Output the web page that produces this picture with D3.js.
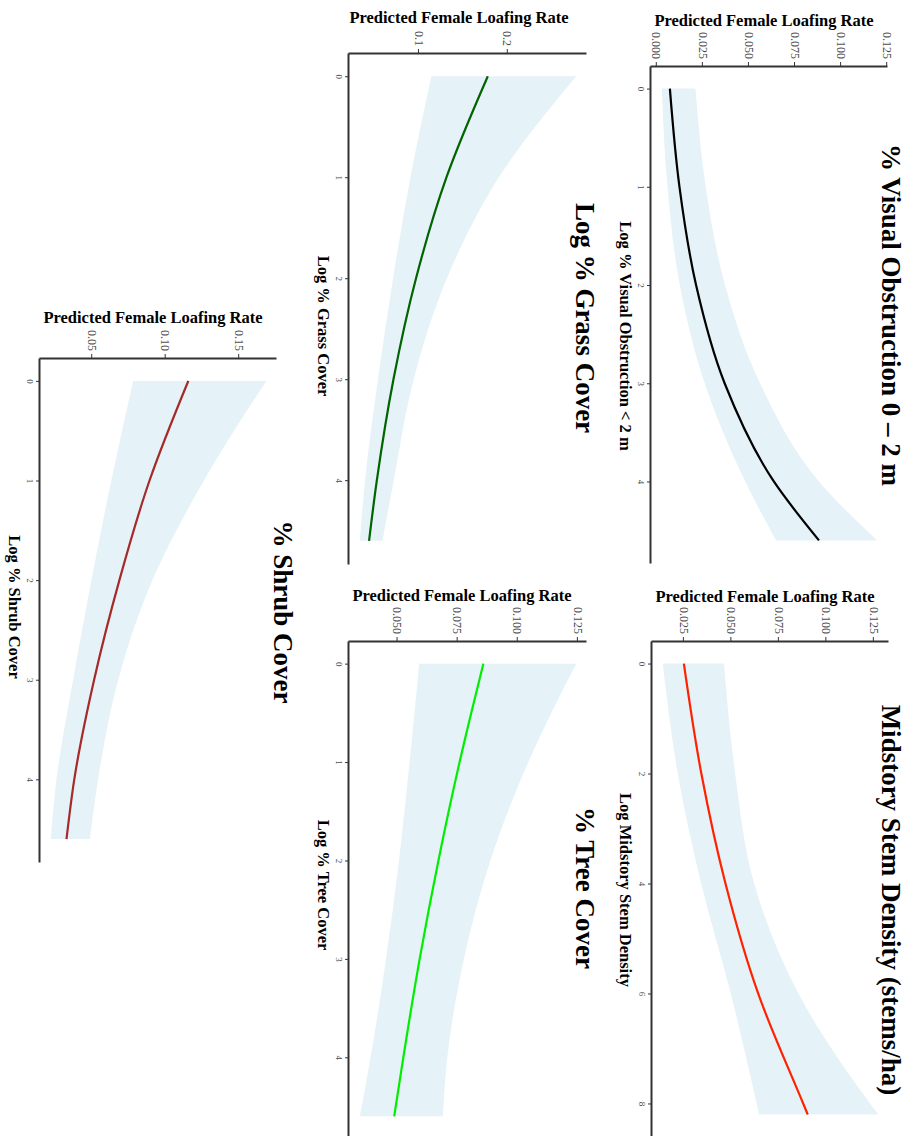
<!DOCTYPE html>
<html>
<head>
<meta charset="utf-8">
<title>Predicted Female Loafing Rate</title>
<script src="https://d3js.org/d3.v7.min.js"></script>
<style>
  body { margin: 0; background: #fff; }
  svg { display: block; font-family: "Liberation Serif", "Times New Roman", serif; }
  .band { fill: #e5f2f7; stroke: none; }
  .fit { fill: none; stroke-width: 2.2px; }
  .axis path, .axis line { stroke: #333; }
  .axis path { stroke-width: 2px; }
  .axis line { stroke-width: 1px; }
  .axis text { fill: #4d4d4d; font-family: "Liberation Serif", serif; }
  .title { font-size: 27px; font-weight: bold; fill: #000; }
  .axis-title { font-size: 16.5px; font-weight: bold; fill: #000; }
</style>
</head>
<body>
<div id="chart"></div>
<script>
// values (fit + confidence band per covariate)
const voX = [0, 1, 2, 3, 4, 4.6];
const voFit = [0.0071, 0.0123, 0.0213, 0.0368, 0.0635, 0.088];
const voLower = [0.0027, 0.0058, 0.0125, 0.026, 0.048, 0.0647];
const voUpper = [0.021, 0.0265, 0.037, 0.056, 0.088, 0.1196];

const msX = [0, 2, 4, 6, 8, 8.2];
const msFit = [0.025, 0.0342, 0.0469, 0.0641, 0.0878, 0.0902];
const msLower = [0.0139, 0.0218, 0.0341, 0.0497, 0.0633, 0.0646];
const msUpper = [0.0461, 0.052, 0.062, 0.0853, 0.123, 0.1273];

const grassX = [0, 1, 2, 3, 4, 4.6];
const grassFit = [0.1775, 0.131, 0.0967, 0.0713, 0.0526, 0.0438];
const grassLower = [0.114, 0.0904, 0.0709, 0.0539, 0.0393, 0.0334];
const grassUpper = [0.277, 0.190, 0.1315, 0.0941, 0.0716, 0.0589];

const treeX = [0, 1, 2, 3, 4, 4.6];
const treeFit = [0.0857, 0.0758, 0.067, 0.0592, 0.0524, 0.0486];
const treeLower = [0.059, 0.055, 0.0506, 0.0452, 0.0388, 0.0343];
const treeUpper = [0.1243, 0.1044, 0.0886, 0.0776, 0.0707, 0.0688];

const shrubX = [0, 1, 2, 3, 4, 4.6];
const shrubFit = [0.1154, 0.089, 0.0685, 0.0513, 0.0378, 0.0325];
const shrubLower = [0.0779, 0.063, 0.0495, 0.037, 0.0257, 0.0218];
const shrubUpper = [0.1684, 0.126, 0.091, 0.0677, 0.054, 0.0484];

// tick labels
const xTicks4 = [0, 1, 2, 3, 4];
const xTicks8 = [0, 2, 4, 6, 8];
const voTicks = [0, 0.025, 0.05, 0.075, 0.1, 0.125];
const msTicks = [0.025, 0.05, 0.075, 0.1, 0.125];
const grassTicks = [0.1, 0.2];
const treeTicks = [0.05, 0.075, 0.1, 0.125];
const shrubTicks = [0.05, 0.1, 0.15];

const yLabel = "Predicted Female Loafing Rate";

// figure is drawn upright (1136 x 915) then turned a quarter clockwise
const W = 1136, H = 915;

const panels = [
  { title: "% Visual Obstruction 0 \u2013 2 m", xlab: "Log % Visual Obstruction < 2 m",
    x: voX, fit: voFit, lo: voLower, hi: voUpper, color: "#000",
    xt: xTicks4, yt: voTicks, fmt: ".3f",
    box: [66, 563, 27, 264], tAt: [315, 33], yAt: [26, 151], xAt: [336, 295] },
  { title: "Midstory Stem Density (stems/ha)", xlab: "Log Midstory Stem Density",
    x: msX, fit: msFit, lo: msLower, hi: msUpper, color: "#ff2200",
    xt: xTicks8, yt: msTicks, fmt: ".3f",
    box: [641, 1137, 26, 263], tAt: [900, 33], yAt: [602, 150], xAt: [890, 295] },
  { title: "Log % Grass Cover", xlab: "Log % Grass Cover",
    x: grassX, fit: grassFit, lo: grassLower, hi: grassUpper, color: "#006400",
    xt: xTicks4, yt: grassTicks, fmt: ".1f",
    box: [53, 564, 328, 566], tAt: [318, 339], yAt: [23, 456], xAt: [326, 597] },
  { title: "% Tree Cover", xlab: "Log % Tree Cover",
    x: treeX, fit: treeFit, lo: treeLower, hi: treeUpper, color: "#00ee00",
    xt: xTicks4, yt: treeTicks, fmt: ".3f",
    box: [641, 1139, 328, 566], tAt: [888, 339], yAt: [601, 453], xAt: [885, 597] },
  { title: "% Shrub Cover", xlab: "Log % Shrub Cover",
    x: shrubX, fit: shrubFit, lo: shrubLower, hi: shrubUpper, color: "#a52a2a",
    xt: xTicks4, yt: shrubTicks, fmt: ".2f",
    box: [358, 862, 638, 875], tAt: [612, 641], yAt: [323, 762], xAt: [607, 906] }
];

const svg = d3.select("#chart")
  .append("svg")
  .attr("width", H)
  .attr("height", W);

const fig = svg.append("g")
  .attr("transform", `translate(${H},0) rotate(90)`);

// ggplot style 5% padding
function pad(ext) {
  const d = (ext[1] - ext[0]) * 0.05;
  return [ext[0] - d, ext[1] + d];
}

panels.forEach(p => {
  const [left, right, top, bottom] = p.box;
  const rows = p.x.map((v, i) => ({ x: v, fit: p.fit[i], lo: p.lo[i], hi: p.hi[i] }));

  const x = d3.scaleLinear().domain(pad(d3.extent(p.x))).range([left, right]);
  const y = d3.scaleLinear()
    .domain(pad([d3.min(p.lo), d3.max(p.hi)]))
    .range([bottom, top]);

  const g = fig.append("g");

  g.append("path")
    .datum(rows)
    .attr("class", "band")
    .attr("d", d3.area()
      .curve(d3.curveMonotoneX)
      .x(d => x(d.x))
      .y0(d => y(d.lo))
      .y1(d => y(d.hi)));

  g.append("path")
    .datum(rows)
    .attr("class", "fit")
    .attr("stroke", p.color)
    .attr("d", d3.line()
      .curve(d3.curveMonotoneX)
      .x(d => x(d.x))
      .y(d => y(d.fit)));

  // axes
  g.append("g")
    .attr("class", "axis")
    .attr("transform", `translate(0,${bottom})`)
    .call(d3.axisBottom(x).tickValues(p.xt).tickFormat(d3.format("d"))
      .tickSize(4).tickSizeOuter(0).tickPadding(3))
    .selectAll("text").style("font-size", "9px");

  g.append("g")
    .attr("class", "axis")
    .attr("transform", `translate(${left},0)`)
    .call(d3.axisLeft(y).tickValues(p.yt).tickFormat(d3.format(p.fmt))
      .tickSize(4).tickSizeOuter(0).tickPadding(3))
    .selectAll("text").style("font-size", "12px");

  // labels
  g.append("text")
    .attr("class", "title")
    .attr("x", p.tAt[0])
    .attr("y", p.tAt[1])
    .attr("text-anchor", "middle")
    .text(p.title);

  g.append("text")
    .attr("class", "axis-title")
    .attr("transform", `translate(${p.yAt[0]},${p.yAt[1]}) rotate(-90)`)
    .attr("text-anchor", "middle")
    .text(yLabel);

  g.append("text")
    .attr("class", "axis-title")
    .attr("x", p.xAt[0])
    .attr("y", p.xAt[1])
    .attr("text-anchor", "middle")
    .text(p.xlab);
});
</script>
</body>
</html>
